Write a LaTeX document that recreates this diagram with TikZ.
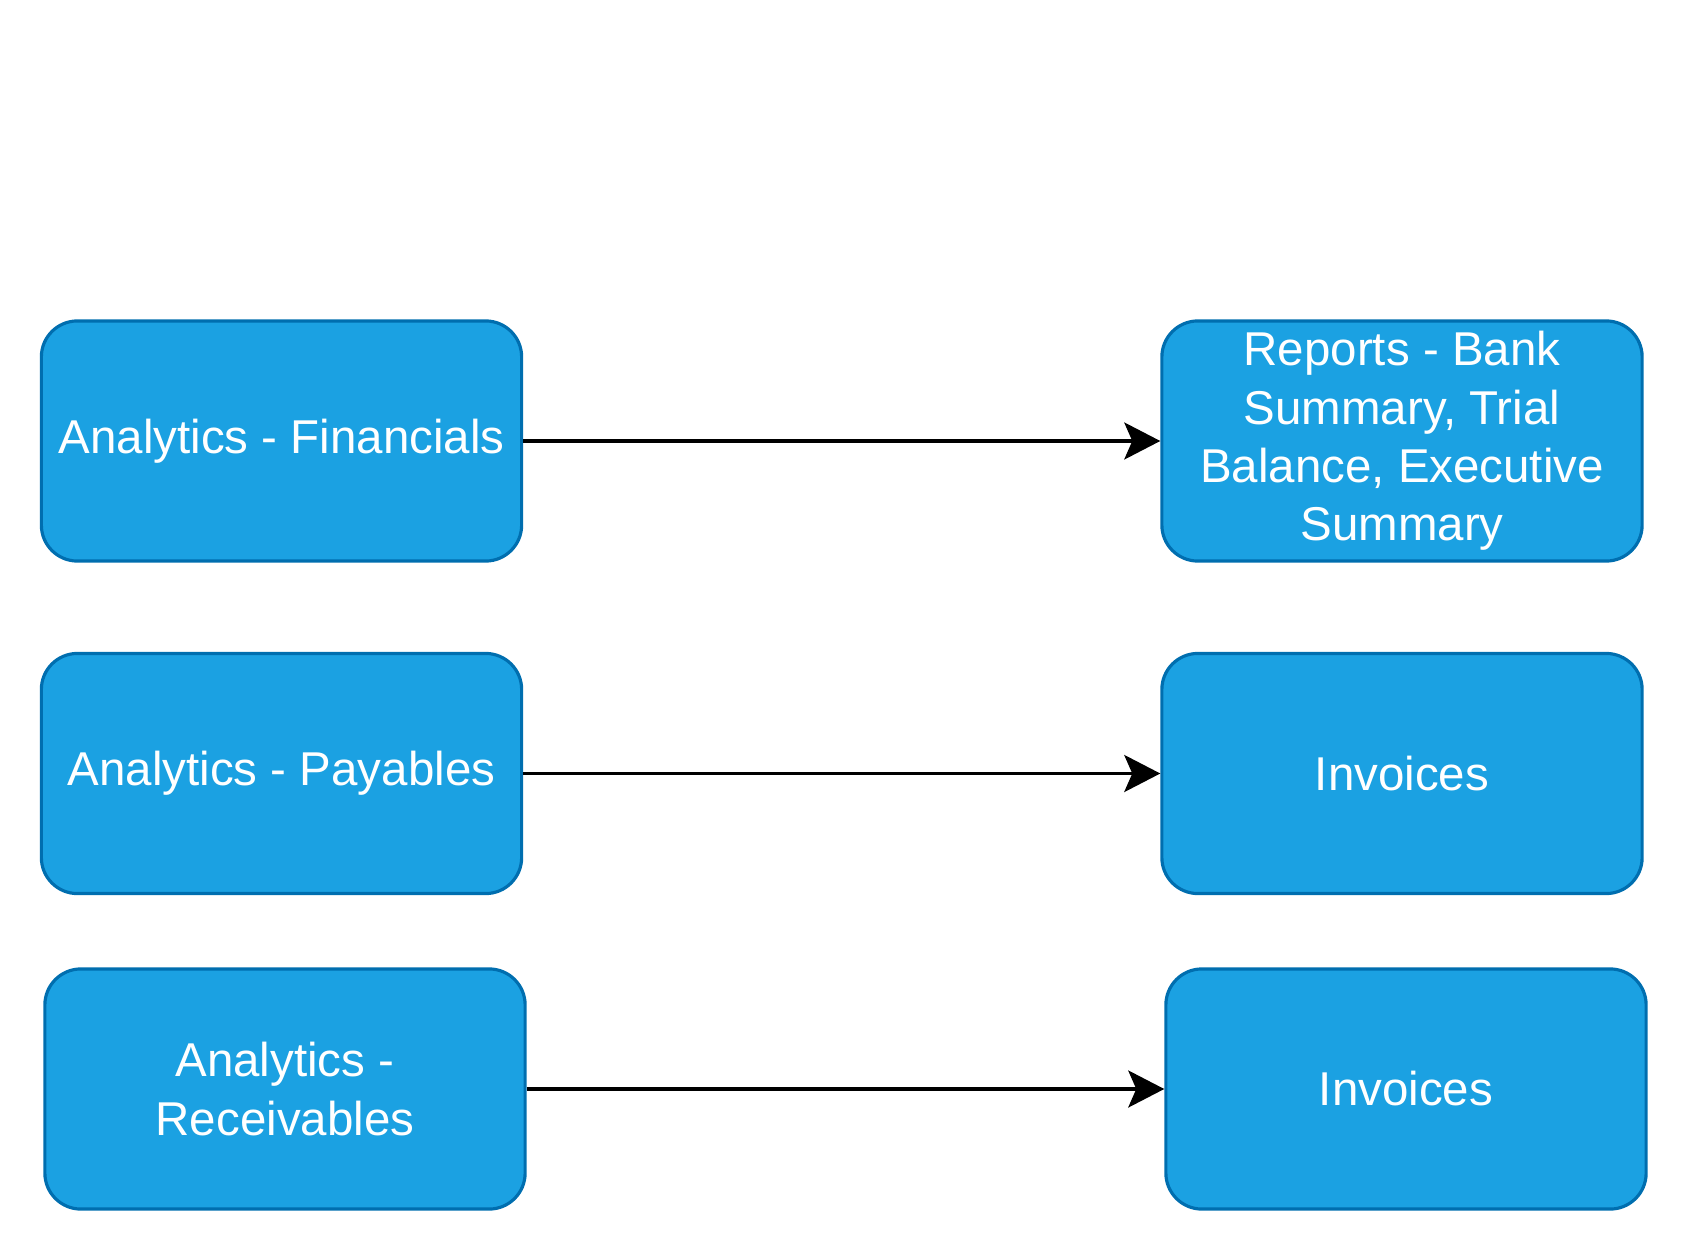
\documentclass[tikz,border=0pt]{standalone}
\usepackage{fontspec}
\setmainfont{Liberation Sans}
\usetikzlibrary{arrows.meta,positioning}
\definecolor{BoxFill}{HTML}{1BA1E2}
\definecolor{BoxLine}{HTML}{006EAF}

\begin{document}
\begin{tikzpicture}[x=0.01cm,y=-0.01cm,
  stepbox/.style={draw=BoxLine,fill=BoxFill,line width=0.9pt,rounded corners=0.36cm,
    minimum width=4.8cm,minimum height=2.4cm,align=center,
    text=white,font=\fontsize{13.5}{16.6}\selectfont,inner sep=0pt},
  flow/.style={line width=0.9pt,-{Stealth[length=0.36cm,width=0.37cm,inset=0.08cm]}}]
\useasboundingbox (0,0) rectangle (1688,1252);

% left column
\node[stepbox] (fin) at (281.5,441) {Analytics - Financials};
\node[stepbox] (pay) at (281.5,773.5) {Analytics - Payables};
\node[stepbox] (rec) at (285,1089) {Analytics -\\Receivables};

% right column
\node[stepbox] (rep) at (1402,441) {\raisebox{-3pt}{\parbox{4.6cm}{\centering
  Reports - Bank\\Summary, Trial\\Balance, Executive\\Summary}}};
\node[stepbox] (inv1) at (1402,773.5) {Invoices};
\node[stepbox] (inv2) at (1406,1089) {Invoices};

\draw[flow] (fin) -- (rep);
\draw[flow] (pay) -- (inv1);
\draw[flow] (rec) -- (inv2);

\end{tikzpicture}
\end{document}
